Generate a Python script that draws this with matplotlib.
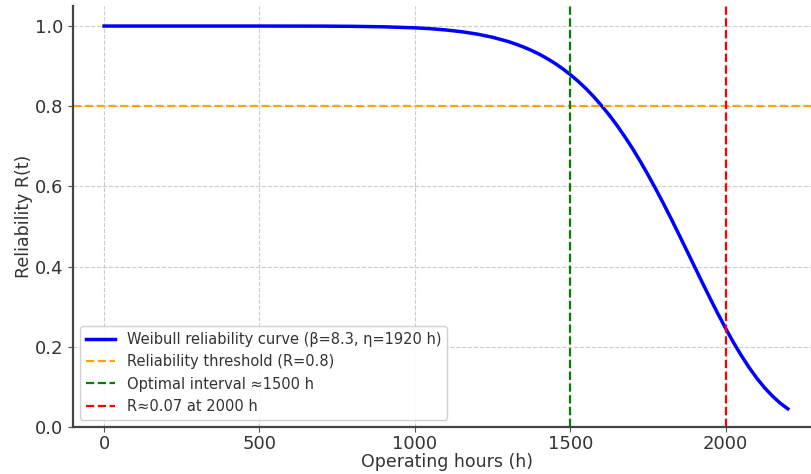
import matplotlib.pyplot as plt

plt.rcParams['font.family'] = ['DejaVu Sans']
plt.rcParams['text.color'] = '#333333'
plt.rcParams['axes.labelcolor'] = '#333333'
plt.rcParams['xtick.color'] = '#333333'
plt.rcParams['ytick.color'] = '#333333'

# values
hours = [0, 100, 200, 300, 400, 500, 600, 700, 800, 900, 1000, 1050, 1100, 1150,
         1200, 1250, 1300, 1325, 1350, 1375, 1400, 1425, 1450, 1475, 1500, 1525,
         1550, 1575, 1600, 1625, 1650, 1675, 1700, 1725, 1750, 1775, 1800, 1825,
         1850, 1875, 1900, 1925, 1950, 1975, 2000, 2025, 2050, 2075, 2100, 2125,
         2150, 2175, 2200]
reliability = [1.0, 1.0, 1.0, 1.0, 1.0, 1.0, 0.9999, 0.9998, 0.9993, 0.9981, 0.9956,
               0.9934, 0.9902, 0.9859, 0.980, 0.972, 0.9615, 0.9549, 0.9476, 0.9393,
               0.930, 0.9192, 0.9074, 0.8939, 0.879, 0.8625, 0.8444, 0.8242, 0.802,
               0.7784, 0.7526, 0.7246, 0.695, 0.6629, 0.6292, 0.5938, 0.557, 0.5188,
               0.4796, 0.4398, 0.400, 0.360, 0.3207, 0.2825, 0.246, 0.211, 0.1787,
               0.1489, 0.122, 0.0981, 0.0775, 0.0598, 0.0453]
threshold = 0.8
optimal_interval = 1500
check_hour = 2000

fig = plt.figure(figsize=(8.12, 4.74), dpi=100)
ax = fig.add_axes([73 / 812, 47 / 474, 749 / 812, 421 / 474])

ax.plot(hours, reliability, color='blue', linewidth=2.5,
        label='Weibull reliability curve (β=8.3, η=1920 h)')
ax.axhline(threshold, color='orange', linestyle='--', linewidth=1.6,
           label='Reliability threshold (R=0.8)')
ax.axvline(optimal_interval, color='green', linestyle='--', linewidth=1.6,
           label='Optimal interval ≈1500 h')
ax.axvline(check_hour, color='red', linestyle='--', linewidth=1.6,
           label='R≈0.07 at 2000 h')

ax.set_xlim(-100, 2310)
ax.set_ylim(0, 1.05)
ax.set_xticks([0, 500, 1000, 1500, 2000])
ax.set_yticks([0.0, 0.2, 0.4, 0.6, 0.8, 1.0])
ax.tick_params(labelsize=13, color='#555555')
ax.tick_params(axis='x', pad=2.5)
ax.set_xlabel('Operating hours (h)', fontsize=12.5, labelpad=0)
ax.set_ylabel('Reliability R(t)', fontsize=12.5, labelpad=1)
ax.grid(True, linestyle='--', color='#cccccc', linewidth=0.8)

for side in ['top', 'right']:
    ax.spines[side].set_visible(False)
for side in ['left', 'bottom']:
    ax.spines[side].set_color('#444444')
    ax.spines[side].set_linewidth(1.6)

ax.legend(loc='lower left', fontsize=10.5, framealpha=0.9, edgecolor='#cccccc')

fig.savefig('out.png', dpi=100)
